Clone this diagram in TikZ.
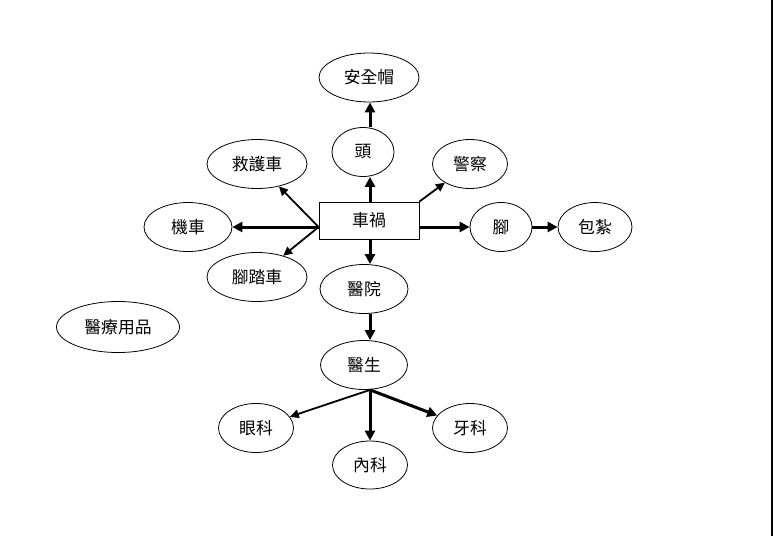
\documentclass[tikz,border=0pt]{standalone}
\usepackage{fontspec}
\newfontfamily\cjk{Noto Sans CJK TC}
\usetikzlibrary{shapes.geometric,arrows.meta}

\begin{document}
\begin{tikzpicture}[x=1pt,y=-1pt,
  every node/.style={font=\cjk\fontsize{16.8}{18}\selectfont, draw, line width=0.8pt, inner sep=0pt},
  oval/.style={ellipse, minimum width=#1, minimum height=49pt},
  oval/.default=75pt,
  rect/.style={rectangle, minimum width=100pt, minimum height=37pt},
  bigarr/.style={-{Triangle[length=10pt,width=10pt]}, line width=3pt},
  smallarr/.style={-{Triangle[length=9pt,width=8.5pt]}, line width=1.8pt}]
  \path[use as bounding box, fill=white] (0,0) rectangle (773,536);
  \coordinate (axis) at (370,0);
  % center
  \node[rect] (crash) at (369,220.5) {車禍};
  % top
  \node[oval=100pt] (helmet) at (369,77.5) {安全帽};
  \node[oval=62pt] (head) at (363,152) {頭};
  \node[oval=75pt] (police) at (470,164) {警察};
  % left
  \node[oval=100pt] (ambul) at (257,164) {救護車};
  \node[oval=88pt] (moto) at (188,227) {機車};
  \node[oval=100pt] (bike) at (257,277) {腳踏車};
  \node[oval=123pt, minimum height=51pt] (supply) at (118,327) {醫療用品};
  % right
  \node[oval=62pt] (foot) at (501,227) {腳};
  \node[oval=74pt] (bandage) at (595,227) {包紮};
  % bottom
  \node[oval=88pt] (hosp) at (364,289) {醫院};
  \node[oval=87pt] (doc) at (364,365) {醫生};
  \node[oval=75pt] (eye) at (256,428) {眼科};
  \node[oval=75pt, minimum height=48pt] (inner) at (370,465) {內科};
  \node[oval=75pt] (dent) at (470,428) {牙科};

  \draw[bigarr] (head.north -| axis) -- (helmet.south -| axis);
  \draw[bigarr] (crash.north -| axis) -- (head.south -| axis);
  \draw[smallarr] (crash.north east) -- (police);
  \draw[bigarr] (crash.west |- moto) -- (moto.east);
  \draw[smallarr] (crash.west |- moto) -- (ambul);
  \draw[smallarr] (crash.west |- moto) -- (bike);
  \draw[bigarr] (crash.east |- foot) -- (foot.west);
  \draw[bigarr] (foot.east) -- (bandage.west);
  \draw[bigarr] (crash.south -| axis) -- (hosp.north -| axis);
  \draw[bigarr] (hosp.south -| axis) -- (doc.north -| axis);
  \draw[smallarr] (doc.south -| axis) -- (eye);
  \draw[bigarr] (doc.south -| axis) -- (inner.north -| axis);
  \draw[bigarr] (doc.south -| axis) -- (dent);

  \draw[line width=1.2pt] (772,0) -- (772,536);
\end{tikzpicture}
\end{document}
